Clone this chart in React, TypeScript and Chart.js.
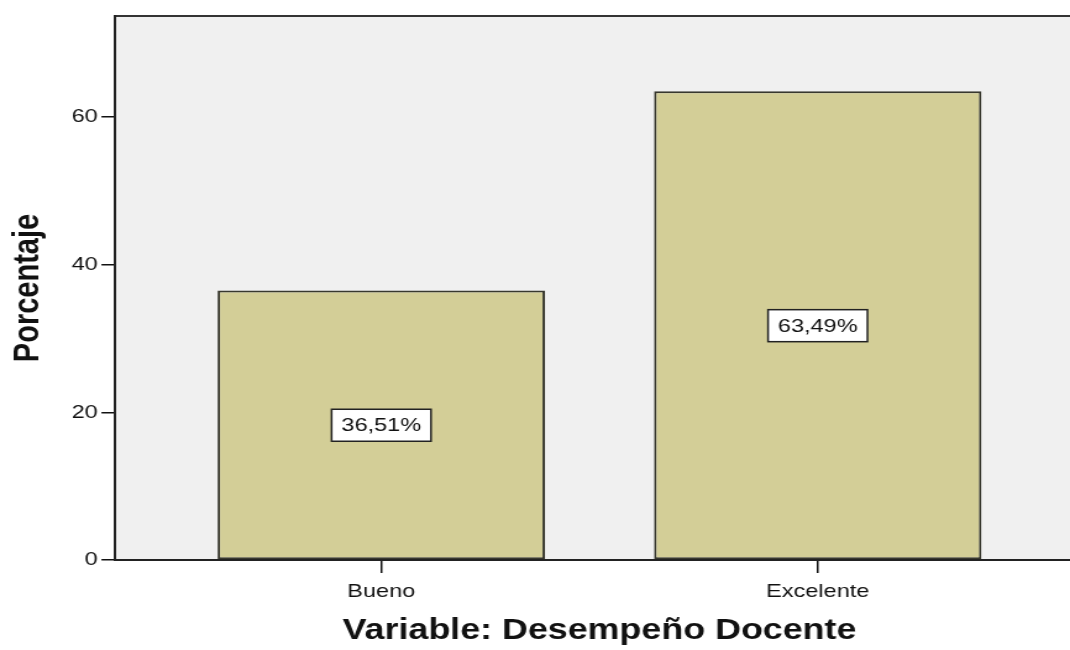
import React, { useEffect, useRef } from 'react';
import { Chart, registerables } from 'chart.js';

Chart.register(...registerables);

// Data
const categories = ['Bueno', 'Excelente'];
const percentages = [36.51, 63.49];
const yTicks = [0, 20, 40, 60];
const yMax = 73.7;
const xMin = 0.39;
const xMax = 2.61;

// The drawing is rendered narrower and widened horizontally by this factor.
const STRETCH = 1.2356;
const CANVAS_W = 880;
const CANVAS_H = 650;
const FONT = '"Liberation Sans", Arial, Helvetica, sans-serif';

const plotFrame = {
  id: 'plotFrame',
  beforeDraw(chart: any) {
    const { ctx, chartArea: a } = chart;
    ctx.save();
    ctx.fillStyle = '#F0F0F0';
    ctx.fillRect(a.left, a.top, a.right - a.left, a.bottom - a.top);
    ctx.strokeStyle = '#333333';
    ctx.lineWidth = 2;
    ctx.beginPath();
    ctx.moveTo(a.left, a.top);
    ctx.lineTo(a.right, a.top);
    ctx.lineTo(a.right, a.bottom);
    ctx.stroke();
    ctx.restore();
  },
};

const valueBoxes = {
  id: 'valueBoxes',
  afterDatasetsDraw(chart: any) {
    const { ctx } = chart;
    const yScale = chart.scales.y;
    const meta = chart.getDatasetMeta(0);
    ctx.save();
    ctx.font = `19px ${FONT}`;
    ctx.textAlign = 'center';
    ctx.textBaseline = 'middle';
    meta.data.forEach((bar: any, i: number) => {
      const v = percentages[i];
      const text = v.toFixed(2).replace('.', ',') + '%';
      const cy = yScale.getPixelForValue(v / 2);
      const w = ctx.measureText(text).width + 16;
      const h = 32;
      ctx.fillStyle = '#FFFFFF';
      ctx.fillRect(bar.x - w / 2, cy - h / 2, w, h);
      ctx.strokeStyle = '#222222';
      ctx.lineWidth = 1.5;
      ctx.strokeRect(bar.x - w / 2, cy - h / 2, w, h);
      ctx.fillStyle = '#111111';
      ctx.fillText(text, bar.x, cy + 1);
    });
    ctx.restore();
  },
};

export default function App() {
  const canvasRef = useRef<HTMLCanvasElement | null>(null);

  useEffect(() => {
    const canvas = canvasRef.current;
    if (!canvas) return;
    const chart = new Chart(canvas, {
      type: 'bar',
      data: {
        datasets: [
          {
            data: percentages.map((v, i) => ({ x: i + 1, y: v })),
            backgroundColor: '#D3CE97',
            borderColor: '#38382E',
            borderWidth: 2,
            borderSkipped: false,
            categoryPercentage: 1,
            barPercentage: 0.75,
          },
        ],
      },
      options: {
        responsive: false,
        animation: false,
        devicePixelRatio: 1,
        layout: { padding: { top: 16, right: CANVAS_W - 877.3, left: 0, bottom: 0 } },
        plugins: {
          legend: { display: false },
          tooltip: { enabled: false },
        },
        scales: {
          x: {
            type: 'linear',
            min: xMin,
            max: xMax,
            offset: false,
            afterBuildTicks: (s: any) => {
              s.ticks = categories.map((_, i) => ({ value: i + 1 }));
            },
            afterFit: (s: any) => {
              s.height = 90;
            },
            ticks: {
              callback: (v: any) => categories[Number(v) - 1] ?? '',
              font: { family: FONT, size: 19 },
              color: '#111111',
              padding: 7,
              autoSkip: false,
              maxRotation: 0,
            },
            grid: {
              offset: false,
              drawOnChartArea: false,
              drawTicks: true,
              tickLength: 13,
              color: '#111111',
              lineWidth: 1.5,
            },
            border: { display: true, color: '#222222', width: 2 },
            title: {
              display: true,
              text: 'Variable: Desempeño Docente',
              font: { family: FONT, size: 29, weight: 'bold' },
              color: '#111111',
              padding: { top: 0, bottom: 2 },
            },
          },
          y: {
            type: 'linear',
            min: 0,
            max: yMax,
            afterBuildTicks: (s: any) => {
              s.ticks = yTicks.map((v) => ({ value: v }));
            },
            afterFit: (s: any) => {
              s.width = 93.1;
            },
            ticks: {
              font: { family: FONT, size: 19 },
              color: '#111111',
              padding: 3,
            },
            grid: {
              drawOnChartArea: false,
              drawTicks: true,
              tickLength: 11,
              color: '#111111',
              lineWidth: 1.5,
            },
            border: { display: true, color: '#222222', width: 2 },
            title: {
              display: true,
              text: 'Porcentaje',
              font: { family: FONT, size: 29, weight: 'bold' },
              color: '#111111',
              padding: { top: 6, bottom: 0 },
            },
          },
        },
      },
      plugins: [plotFrame, valueBoxes],
    } as any);
    return () => chart.destroy();
  }, []);

  return (
    <div
      style={{
        position: 'absolute',
        left: 0,
        top: 0,
        width: 1070,
        height: 650,
        overflow: 'hidden',
        background: '#FFFFFF',
      }}
    >
      <div
        style={{
          width: CANVAS_W,
          height: CANVAS_H,
          transform: `scaleX(${STRETCH})`,
          transformOrigin: '0 0',
        }}
      >
        <canvas ref={canvasRef} width={CANVAS_W} height={CANVAS_H} />
      </div>
    </div>
  );
}
